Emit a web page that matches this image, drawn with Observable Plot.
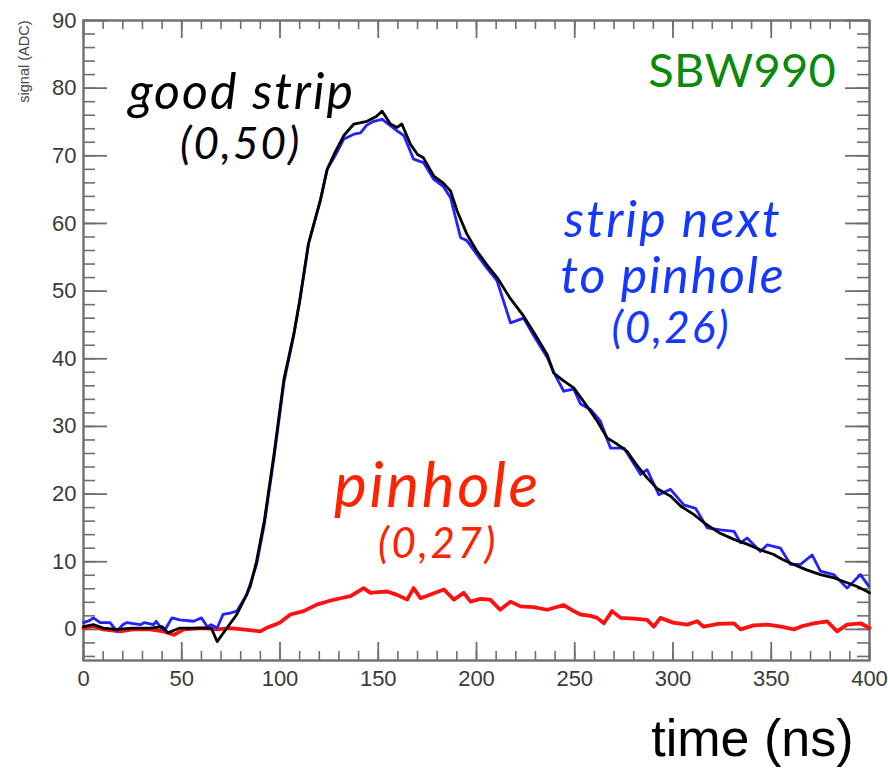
<!DOCTYPE html>
<html>
<head>
<meta charset="utf-8">
<script src="https://cdn.jsdelivr.net/npm/d3@7"></script>
<script src="https://cdn.jsdelivr.net/npm/@observablehq/plot@0.6"></script>
<style>
  html, body { margin: 0; padding: 0; background: #fff; }
  #chart svg { display: block; }
</style>
</head>
<body>
<div id="chart"></div>
<script>
// ---- data ----
const goodT = [0,5,10,17,25,34,40,43,49,59,65,68,73,78,83,85,88,92,97,102,107,110,114.5,120.6,124,128,132.5,137.6,144.3,149,152,156.2,159.6,162,166.4,170,173,178.3,183,186.8,190.2,195,200,205,210.5,217,224,230,236,239.3,244,249.5,255,261.4,266.5,271,276.7,281,286.8,292,298.7,304,310.5,317,324,331,337.7,344,351,356,361.4,368,375,382,388.6,394,398.8,400];
const goodV = [0.4,0.7,0.2,0,0.2,0.2,0.4,-0.5,0.2,0.2,0.2,-1.8,0.2,2.2,5.1,6.5,10,16,26,37,43.6,48.5,57,63.5,68,70.5,73,74.7,75.1,75.8,76.6,74.7,74.2,74.7,71.7,70.2,69.7,67,66,64.8,61.8,58.5,56,54,52,49,46.3,43.5,40.6,37.9,36.8,35.7,33.5,30.8,28.3,27.5,26.3,24.5,22.4,20.8,19.7,18.2,17,15.5,14.2,13.3,12.6,11.8,11.1,10.3,9.6,8.8,8.1,7.6,6.9,6.3,5.6,5.4];

const nextT = [0,3,5,8.5,13.5,17,20,22,29,31,35.6,37,40,42,45,49,56,60,63,65,68,71,74.5,78,83,88,92,97,102,107,110,114.5,120.6,124,128,132.5,137.6,141,144,147.7,152,156,159.6,163,168,173,178.3,183,186.8,191.9,195,200,205,210.5,217.3,224,230,236,239.3,244.4,249.5,253,258,263,268.2,275,283.5,286.8,292.8,298.7,305.5,311.5,317.4,324.2,331,334.4,337.7,344.5,348,354.7,359.8,364.9,370.8,375,381.8,388.6,395.4,399.6];
const nextV = [1.0,1.3,1.7,1.0,1.0,-0.3,0.7,1.0,0.7,1.0,0.7,1.2,0,0.2,1.7,1.4,1.2,1.7,0.4,0.7,0.2,2.2,2.4,2.7,5.1,9.5,15.5,25.5,36.5,43.5,48.5,57,63.5,68,70,72.5,73.2,73.4,74.5,75.1,75.4,74.5,73.7,73,69.5,69,66.5,65.5,63.8,57.9,57.5,55.5,53.5,51.5,45.3,46,43,40.2,38,35.2,35.5,33.3,32.5,30.8,26.8,26.8,22.9,23.6,19.9,20.7,18.4,17.9,15,14.7,14.5,12.8,13.5,11.5,12.5,12,9.6,9.6,11,8.6,8.1,6.1,8.1,6.4];

const pinT = [0,5,10,18.6,25,34,40.7,46,51,61,68,74.5,81,90,93,97.5,100,105.3,112,119,125,130.8,135.9,142.6,146,150,154.5,159.6,164.7,168,171.5,177,183.4,188.5,193.5,197,202,207,212,217.3,222.4,229,236,244.4,249.5,253,258,261.4,264.8,269,273.3,280,286.8,290.2,293.6,300,307.2,312.3,315.6,323,331,334.4,341,348,355,361.5,366,371.7,378.4,383.5,388.6,395.4,400];
const pinV = [0.2,0.5,0,-0.3,0,0,-0.3,-0.8,0,0.2,0,0.2,0,-0.3,0.2,0.7,1.0,2.2,2.7,3.7,4.2,4.6,4.9,6.1,5.4,5.5,5.6,5.1,4.4,6.1,4.6,5.2,5.9,4.4,5.4,4.1,4.5,4.4,2.9,4.1,3.4,3.3,2.9,3.6,2.7,2.2,2.0,1.7,0.9,2.7,1.7,1.6,1.4,0.4,1.7,1.0,0.7,1.2,0.4,0.8,0.9,0,0.6,0.7,0.4,0,0.5,0.9,1.2,-0.3,0.7,0.9,0.2];

const xTickLabels = [0,50,100,150,200,250,300,350,400];
const yTickLabels = [0,10,20,30,40,50,60,70,80,90];
const xMinorTicks = d3.range(0, 401, 10);
const yMinorTicks = d3.range(-4, 91, 2);

const xTitle = "time (ns)";
const yTitle = "signal (ADC)";
const tagText = "SBW990";
const goodLabel = ["good strip", "(0,50)"];
const nextLabel = ["strip next", "to pinhole", "(0,26)"];
const pinLabel = ["pinhole", "(0,27)"];

// ---- build tables ----
const toRows = (T, V) => T.map((t, i) => ({t, v: V[i]}));
const good = toRows(goodT, goodV);
const next = toRows(nextT, nextV);
const pin = toRows(pinT, pinV);

// ---- layout ----
const W = 888, H = 768;
const mL = 83, mR = 19, mT = 20, mB = 108;
const plotW = W - mL - mR, plotH = H - mT - mB;
const axisGray = "#6f6f6f";
const annFont = "Lato, 'Open Sans', sans-serif";
const blueText = "#1438ff", redText = "#ff2200";

const chart = Plot.plot({
  width: W,
  height: H,
  marginLeft: mL, marginRight: mR, marginTop: mT, marginBottom: mB,
  style: {fontFamily: "'Liberation Sans', Arial, sans-serif", background: "#fff"},
  x: {domain: [0, 400]},
  y: {domain: [-4.6, 90]},
  marks: [
    // minor & major ticks (inward, mirrored)
    Plot.tickX(xMinorTicks, {x: d => d, insetTop: plotH - 9, stroke: axisGray, strokeWidth: 1.6}),
    Plot.tickX(xMinorTicks, {x: d => d, insetBottom: plotH - 9, stroke: axisGray, strokeWidth: 1.6}),
    Plot.tickX(xTickLabels, {x: d => d, insetTop: plotH - 18, stroke: axisGray, strokeWidth: 1.8}),
    Plot.tickX(xTickLabels, {x: d => d, insetBottom: plotH - 18, stroke: axisGray, strokeWidth: 1.8}),
    Plot.tickY(yMinorTicks, {y: d => d, insetRight: plotW - 12, stroke: axisGray, strokeWidth: 1.6}),
    Plot.tickY(yMinorTicks, {y: d => d, insetLeft: plotW - 12, stroke: axisGray, strokeWidth: 1.6}),
    Plot.tickY(yTickLabels, {y: d => d, insetRight: plotW - 24, stroke: axisGray, strokeWidth: 1.8}),
    Plot.tickY(yTickLabels, {y: d => d, insetLeft: plotW - 24, stroke: axisGray, strokeWidth: 1.8}),
    Plot.axisX({ticks: xTickLabels, tickSize: 0, tickPadding: 10, fontSize: 22, fill: "#3a3a3a", label: null}),
    Plot.axisY({ticks: yTickLabels, tickSize: 0, tickPadding: 7, fontSize: 22, fill: "#3a3a3a", label: null}),
    Plot.frame({stroke: axisGray, strokeWidth: 2.4}),
    // series
    Plot.line(pin, {x: "t", y: "v", stroke: "#ff1111", strokeWidth: 3.8}),
    Plot.line(next, {x: "t", y: "v", stroke: "#2222ff", strokeWidth: 2.8}),
    Plot.line(good, {x: "t", y: "v", stroke: "#000", strokeWidth: 2.8}),
    // titles
    Plot.text([yTitle], {frameAnchor: "top-left", rotate: -90, textAnchor: "end", dx: -65, dy: 0, fontSize: 14.5, fill: "#444"}),
    Plot.text([xTitle], {frameAnchor: "bottom-right", textAnchor: "end", lineAnchor: "bottom", dx: -16, dy: 95, fontSize: 52, fill: "#000"}),
    // annotations
    Plot.text([tagText], {x: 383, y: 80.1, textAnchor: "end", lineAnchor: "bottom", fontSize: 47, fill: "#0a8a0a", fontFamily: annFont}),
    Plot.text([goodLabel[0]], {x: 80.5, y: 76.9, lineAnchor: "bottom", fontSize: 50, fontStyle: "italic", fill: "#000", fontFamily: annFont}),
    Plot.text([goodLabel[1]], {x: 80, y: 69.6, lineAnchor: "bottom", fontSize: 44, fontStyle: "italic", fill: "#000", fontFamily: annFont}),
    Plot.text([nextLabel[0]], {x: 300, y: 58.0, lineAnchor: "bottom", fontSize: 50, fontStyle: "italic", fill: blueText, fontFamily: annFont}),
    Plot.text([nextLabel[1]], {x: 300, y: 49.65, lineAnchor: "bottom", fontSize: 50, fontStyle: "italic", fill: blueText, fontFamily: annFont}),
    Plot.text([nextLabel[2]], {x: 299, y: 42.4, lineAnchor: "bottom", fontSize: 44, fontStyle: "italic", fill: blueText, fontFamily: annFont}),
    Plot.text([pinLabel[0]], {x: 180.1, y: 18.1, lineAnchor: "bottom", fontSize: 62, fontStyle: "italic", fill: redText, fontFamily: annFont}),
    Plot.text([pinLabel[1]], {x: 180.4, y: 10.6, lineAnchor: "bottom", fontSize: 42, fontStyle: "italic", fill: redText, fontFamily: annFont})
  ]
});

// widen the humanist annotation lettering toward the reference's wider face
const spacing = new Map([
  [goodLabel[0], 2.0], [goodLabel[1], 2.0],
  [nextLabel[0], 2.2], [nextLabel[1], 1.8], [nextLabel[2], 2.0],
  [pinLabel[0], 2.6], [pinLabel[1], 2.6], [tagText, 0.3]
]);
d3.select(chart).selectAll("text").each(function() {
  const s = spacing.get(this.textContent);
  if (s != null) this.setAttribute("letter-spacing", s);
});
document.getElementById("chart").appendChild(chart);
</script>
</body>
</html>
